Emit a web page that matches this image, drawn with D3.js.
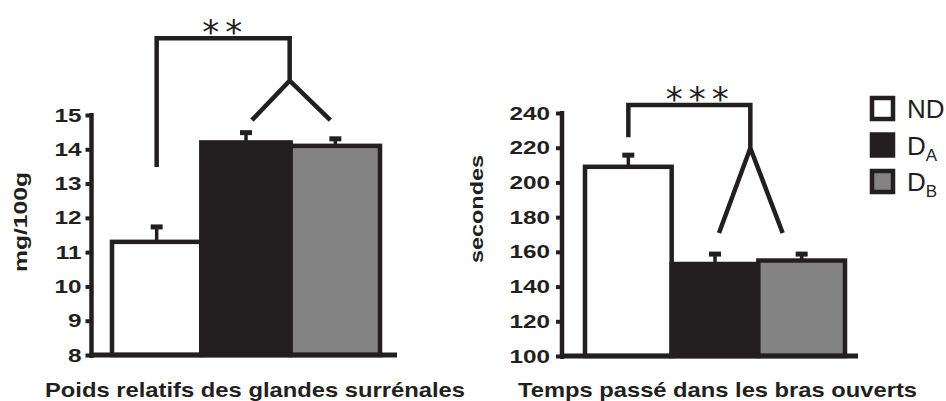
<!DOCTYPE html>
<html>
<head>
<meta charset="utf-8">
<script src="https://cdn.jsdelivr.net/npm/d3@7"></script>
<style>
  body { margin: 0; background: #fff; }
  text { font-family: "Liberation Sans", Arial, sans-serif; fill: #231f20; }
</style>
</head>
<body>
<div id="chart"></div>
<script>
// groups and colours
const groups = ["ND", "DA", "DB"];
const groupFills = ["#ffffff", "#231f20", "#838383"];

// left panel: relative adrenal weight (mg/100g)
const adrenalMeans = [11.3, 14.2, 14.1];
const adrenalErrors = [0.45, 0.3, 0.22];
const adrenalTicks = [8, 9, 10, 11, 12, 13, 14, 15];

// right panel: time spent in open arms (seconds)
const armsMeans = [209, 153, 155];
const armsErrors = [7, 6, 4];
const armsTicks = [100, 120, 140, 160, 180, 200, 220, 240];

const ink = "#231f20";
const width = 946, height = 401;

const svg = d3.select("#chart").append("svg")
    .attr("width", width)
    .attr("height", height);

function drawPanel(p) {
    let g = svg.append("g");

    let y = d3.scaleLinear().domain(p.domain).range([p.bottom, p.top]);
    let x = d3.scaleBand().domain(groups).range(p.barRange).paddingInner(0).paddingOuter(0);
    let bw = x.bandwidth();

    // bars
    g.selectAll("rect.bar")
        .data(groups)
        .enter().append("rect")
        .attr("class", "bar")
        .attr("x", d => x(d))
        .attr("width", bw)
        .attr("y", (d, i) => y(p.means[i]))
        .attr("height", (d, i) => y(p.domain[0]) - y(p.means[i]))
        .attr("fill", (d, i) => groupFills[i])
        .attr("stroke", ink)
        .attr("stroke-width", 4.5);

    // error bars (upper only)
    groups.forEach((d, i) => {
        let cx = x(d) + bw / 2;
        g.append("line")
            .attr("x1", cx).attr("x2", cx)
            .attr("y1", y(p.means[i])).attr("y2", y(p.means[i] + p.errors[i]))
            .attr("stroke", ink).attr("stroke-width", 3.5);
        g.append("line")
            .attr("x1", cx - 6).attr("x2", cx + 6)
            .attr("y1", y(p.means[i] + p.errors[i]) + 0.5).attr("y2", y(p.means[i] + p.errors[i]) + 0.5)
            .attr("stroke", ink).attr("stroke-width", 5);
    });

    // y axis
    let yAxis = d3.axisLeft(y).tickValues(p.ticks).tickFormat(d3.format("d"))
        .tickSize(6).tickSizeOuter(0).tickPadding(p.pad);
    let ag = g.append("g").attr("transform", `translate(${p.axisX},0)`).call(yAxis);
    ag.select(".domain").attr("stroke", ink).attr("stroke-width", 4.5)
        .attr("d", `M0,${p.top - 2}V${p.bottom + 3}`);
    ag.selectAll(".tick line").attr("stroke", ink).attr("stroke-width", 4);
    ag.selectAll(".tick text")
        .attr("fill", ink)
        .style("font-size", "19px")
        .style("font-weight", "bold")
        .attr("x", -(6 + p.pad) / 1.28)
        .attr("transform", "scale(1.28,1)");

    // x axis baseline
    g.append("line")
        .attr("x1", p.axisX).attr("x2", p.barRange[1] + p.axisOver)
        .attr("y1", y(p.domain[0])).attr("y2", y(p.domain[0]))
        .attr("stroke", ink).attr("stroke-width", 5);

    // significance bracket
    let b = p.bracket;
    let xStart = x("ND") + bw / 2;
    let xJoin = x("DB") + b.joinOff;
    let legA = x("DA") + bw / 2 + b.legOff[0];
    let legB = x("DB") + bw / 2 + b.legOff[1];
    let path = d3.path();
    path.moveTo(xStart, y(b.start));
    path.lineTo(xStart, y(b.top));
    path.lineTo(xJoin, y(b.top));
    path.lineTo(xJoin, y(b.join));
    path.moveTo(legA, y(b.legs));
    path.lineTo(xJoin, y(b.join));
    path.lineTo(legB, y(b.legs));
    g.append("path")
        .attr("d", path.toString())
        .attr("fill", "none")
        .attr("stroke", ink)
        .attr("stroke-width", 4.5)
        .attr("stroke-linejoin", "miter")
        .attr("stroke-linecap", "butt");

    g.append("text")
        .attr("x", (xStart + xJoin) / 2 + b.starOff)
        .attr("y", y(b.top) + 6)
        .attr("text-anchor", "middle")
        .style("font-family", "DejaVu Sans")
        .style("font-size", "34px")
        .style("letter-spacing", "6px")
        .text(b.stars);

    // axis titles
    g.append("text")
        .attr("transform", `translate(${p.yTitle[0]},${p.yTitle[1]}) rotate(-90)`)
        .attr("text-anchor", "middle")
        .attr("dy", "0.35em")
        .style("font-size", "19px")
        .style("font-weight", "bold")
        .attr("textLength", p.yTitleLen)
        .attr("lengthAdjust", "spacingAndGlyphs")
        .text(p.yLabel);

    g.append("text")
        .attr("x", p.xTitle[0])
        .attr("y", p.xTitle[1])
        .attr("text-anchor", "middle")
        .style("font-size", "21px")
        .style("font-weight", "bold")
        .attr("textLength", p.xTitleLen)
        .attr("lengthAdjust", "spacingAndGlyphs")
        .text(p.xLabel);
}

drawPanel({
    domain: [8, 15], top: 115, bottom: 355,
    barRange: [112, 380], axisX: 91.5, axisOver: 17, pad: 4,
    means: adrenalMeans, errors: adrenalErrors, ticks: adrenalTicks,
    bracket: { start: 13.48, top: 17.24, join: 16.0, legs: 14.85, joinOff: -1, legOff: [6, -5], stars: "**", starOff: 2 },
    yLabel: "mg/100g", yTitle: [20, 222], yTitleLen: 100,
    xLabel: "Poids relatifs des glandes surrénales", xTitle: [255, 397], xTitleLen: 420
});

drawPanel({
    domain: [100, 240], top: 113, bottom: 356,
    barRange: [585, 845], axisX: 562, axisOver: 13, pad: 6,
    means: armsMeans, errors: armsErrors, ticks: armsTicks,
    bracket: { start: 226, top: 244.6, join: 219.8, legs: 170.9, joinOff: -8, legOff: [4, -19], stars: "***", starOff: 11 },
    yLabel: "secondes", yTitle: [476, 209], yTitleLen: 108,
    xLabel: "Temps passé dans les bras ouverts", xTitle: [717.5, 397], xTitleLen: 399
});

// legend
const legendMain = ["ND", "D", "D"];
const legendSub = ["", "A", "B"];
let lg = svg.append("g").attr("transform", "translate(870,96)");
groups.forEach((d, i) => {
    let row = lg.append("g").attr("transform", `translate(0,${i * 36.5})`);
    row.append("rect")
        .attr("x", 2).attr("y", 2)
        .attr("width", 21).attr("height", 21)
        .attr("fill", groupFills[i])
        .attr("stroke", ink)
        .attr("stroke-width", 4.5);
    let t = row.append("text")
        .attr("x", 37).attr("y", 22)
        .style("font-size", "26px")
        .text(legendMain[i]);
    if (legendSub[i]) {
        t.append("tspan")
            .attr("dy", 6)
            .style("font-size", "17px")
            .text(legendSub[i]);
    }
});
</script>
</body>
</html>
